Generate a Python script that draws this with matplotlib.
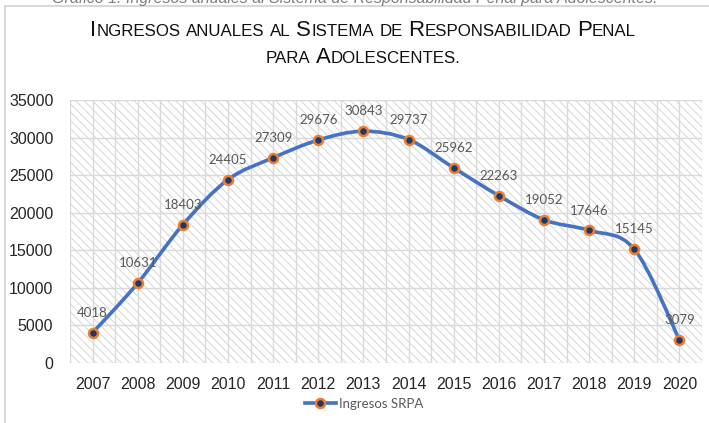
import numpy as np
import matplotlib
matplotlib.use("Agg")
import matplotlib.pyplot as plt
from matplotlib.path import Path
from matplotlib.patches import PathPatch, Rectangle
from matplotlib.lines import Line2D
from matplotlib.offsetbox import TextArea, HPacker, VPacker, AnnotationBbox

# data
years = ["2007", "2008", "2009", "2010", "2011", "2012", "2013",
         "2014", "2015", "2016", "2017", "2018", "2019", "2020"]
ingresos = [4018, 10631, 18403, 24405, 27309, 29676, 30843,
            29737, 25962, 22263, 19052, 17646, 15145, 3079]
series_name = "Ingresos SRPA"
caption = "Gráfico 1. Ingresos anuales al Sistema de Responsabilidad Penal para Adolescentes."
title_lines = [
    [[("I", 1), ("NGRESOS", 0)], [("ANUALES", 0)], [("AL", 0)],
     [("S", 1), ("ISTEMA", 0)], [("DE", 0)],
     [("R", 1), ("ESPONSABILIDAD", 0)], [("P", 1), ("ENAL", 0)]],
    [[("PARA", 0)], [("A", 1), ("DOLESCENTES.", 0)]],
]

LINE_C = "#4472C4"
TICK_C = "#262626"
LABEL_C = "#595959"
GRID_C = "#D9D9D9"

plt.rcParams["hatch.color"] = "#D6D6D6"
plt.rcParams["hatch.linewidth"] = 0.7

fig = plt.figure(figsize=(7.09, 4.23), dpi=100)
ax = fig.add_axes([70 / 709, 1 - 363 / 423, 632 / 709, 263 / 423])

x = np.arange(len(years))
y = np.array(ingresos, dtype=float)

# hatched plot area
ax.patch.set_facecolor("white")
ax.patch.set_hatch("\\\\\\\\")
ax.patch.set_edgecolor("#D6D6D6")

ax.set_xlim(-0.5, len(years) - 0.5)
ax.set_ylim(0, 35000)
ax.set_yticks(np.arange(0, 35001, 5000))
ax.set_xticks(x)
ax.set_xticklabels(years)
ax.set_xticks(np.arange(-0.5, len(years), 1.0), minor=True)
ax.grid(axis="y", which="major", color=GRID_C, lw=1.0)
ax.grid(axis="x", which="both", color=GRID_C, lw=1.0)
ax.set_axisbelow(True)
ax.tick_params(axis="both", which="both", length=0)
ax.tick_params(axis="y", pad=12, labelsize=11.5, labelcolor=TICK_C)
ax.tick_params(axis="x", pad=10, labelsize=11.5, labelcolor=TICK_C)
for lab in ax.get_xticklabels() + ax.get_yticklabels():
    lab.set_family("Liberation Sans")
for s in ax.spines.values():
    s.set_visible(False)

# smoothed line (Excel-style Bezier through the points)
verts = [(x[0], y[0])]
codes = [Path.MOVETO]
n = len(x)
for i in range(n - 1):
    p0 = np.array([x[max(i - 1, 0)], y[max(i - 1, 0)]])
    p1 = np.array([x[i], y[i]])
    p2 = np.array([x[i + 1], y[i + 1]])
    p3 = np.array([x[min(i + 2, n - 1)], y[min(i + 2, n - 1)]])
    c1 = p1 + (p2 - p0) / 6
    c2 = p2 - (p3 - p1) / 6
    verts += [tuple(c1), tuple(c2), tuple(p2)]
    codes += [Path.CURVE4] * 3
ax.add_patch(PathPatch(Path(verts, codes), fill=False, edgecolor=LINE_C,
                       lw=2.6, capstyle="round", joinstyle="round", zorder=3))
ax.plot(x, y, ls="none", marker="o", ms=6.5, mfc="#1F3864", mec="#ED7D31",
        mew=1.8, zorder=4)

for xi, yi in zip(x, ingresos):
    ax.annotate(str(yi), (xi, yi), xytext=(0, 10), textcoords="offset points",
                ha="center", va="bottom", fontsize=9.5, color=LABEL_C,
                family="Lato")

# title in small caps
line_boxes = []
for line in title_lines:
    words = []
    for word in line:
        parts = [TextArea(t, textprops=dict(fontsize=16 if big else 12.2,
                                            family="Liberation Sans",
                                            color="#111111"))
                 for t, big in word]
        words.append(HPacker(children=parts, align="baseline", pad=0, sep=0))
    line_boxes.append(HPacker(children=words, align="baseline", pad=0, sep=4))
title_box = VPacker(children=line_boxes, align="center", pad=0, sep=5)
ab = AnnotationBbox(title_box, (363 / 709, 1 - 44 / 423),
                    xycoords="figure fraction", frameon=False,
                    box_alignment=(0.5, 0.5), annotation_clip=False)
fig.add_artist(ab)

# caption, cut by the top edge as in the source page
fig.text(355 / 709, 1 - 2.5 / 423, caption, ha="center", va="baseline",
         fontsize=11.5, style="italic", color="#7F7F7F",
         family="Liberation Sans")

# chart frame
fig.add_artist(Rectangle((4.5 / 709, -0.1), 1.2, 1.1 - 6.5 / 423,
                         transform=fig.transFigure, fill=False,
                         edgecolor="#D9D9D9", lw=1.5))

# legend
handle = Line2D([], [], color=LINE_C, lw=2.6, marker="o", ms=6.5,
                mfc="#1F3864", mec="#ED7D31", mew=1.8)
fig.legend([handle], [series_name], loc="center",
           bbox_to_anchor=(364 / 709, 1 - 404 / 423), frameon=False,
           prop=dict(family="Lato", size=9.5), labelcolor=LABEL_C,
           handlelength=2.4, handletextpad=0.2)

fig.savefig("out.png", dpi=100)
